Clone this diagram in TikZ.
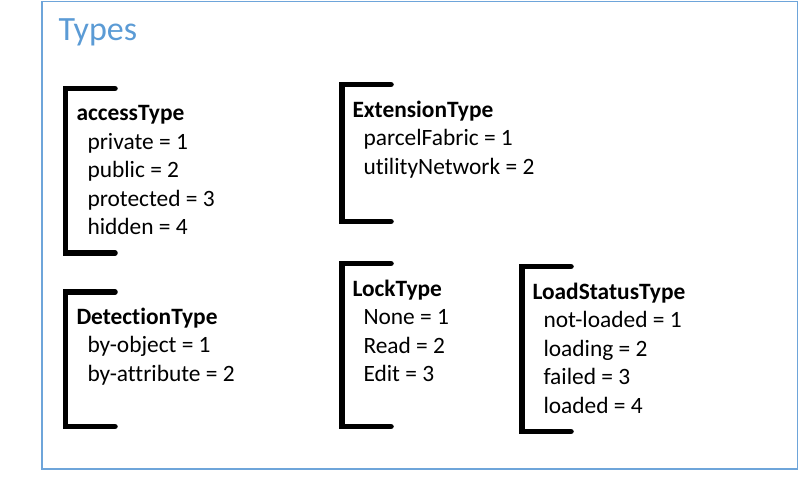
\documentclass[tikz,border=0pt]{standalone}
\usepackage{fontspec}
\setmainfont{Carlito}[Ligatures={NoCommon}]
\definecolor{frameblue}{RGB}{110,165,218}
\definecolor{titleblue}{RGB}{91,155,213}
\begin{document}
\begin{tikzpicture}[x=1pt,y=-1pt,
  bracketline/.style={line width=5.5pt,line cap=round,line join=miter},
  block/.style={anchor=base west,inner sep=0pt,outer sep=0pt,font=\fontsize{23.4}{28.5}\selectfont},
  titletext/.style={anchor=base west,inner sep=0pt,text=titleblue,font=\fontsize{34}{40}\selectfont}]
\useasboundingbox (0,0) rectangle (802,491);
\draw[frameblue,line width=1.5pt] (42,1.5) rectangle (797.5,469);
\node[titletext] (title) at (58.5,40.7) {Types};
% brackets
\newcommand{\typebracket}[4]{\draw[bracketline] (#4,#2) -- (#1,#2) -- (#1,#3) -- (#4,#3);}
\typebracket{65.5}{88.5}{253}{115}
\typebracket{342}{84.5}{221.5}{391}
\typebracket{65.5}{292}{426.5}{115}
\typebracket{342}{263.5}{426.5}{391}
\typebracket{522}{266.5}{431.5}{571}
% blocks
\node[block] (access) at (76.5,120.7) {\begin{tabular}[t]{@{}l@{}}\textbf{accessType}\\ \hspace*{11pt}private = 1\\ \hspace*{11pt}public = 2\\ \hspace*{11pt}protected = 3\\ \hspace*{11pt}hidden = 4\end{tabular}};
\node[block] (ext) at (352.5,117.3) {\begin{tabular}[t]{@{}l@{}}\textbf{ExtensionType}\\ \hspace*{11pt}parcelFabric = 1\\ \hspace*{11pt}utilityNetwork = 2\end{tabular}};
\node[block] (detect) at (76.5,324) {\begin{tabular}[t]{@{}l@{}}\textbf{DetectionType}\\ \hspace*{11pt}by-object = 1\\ \hspace*{11pt}by-attribute = 2\end{tabular}};
\node[block] (lock) at (352.5,296) {\begin{tabular}[t]{@{}l@{}}\textbf{LockType}\\ \hspace*{11pt}None = 1\\ \hspace*{11pt}Read = 2\\ \hspace*{11pt}Edit = 3\end{tabular}};
\node[block] (load) at (532.5,299) {\begin{tabular}[t]{@{}l@{}}\textbf{LoadStatusType}\\ \hspace*{11pt}not-loaded = 1\\ \hspace*{11pt}loading = 2\\ \hspace*{11pt}failed = 3\\ \hspace*{11pt}loaded = 4\end{tabular}};
\end{tikzpicture}
\end{document}
